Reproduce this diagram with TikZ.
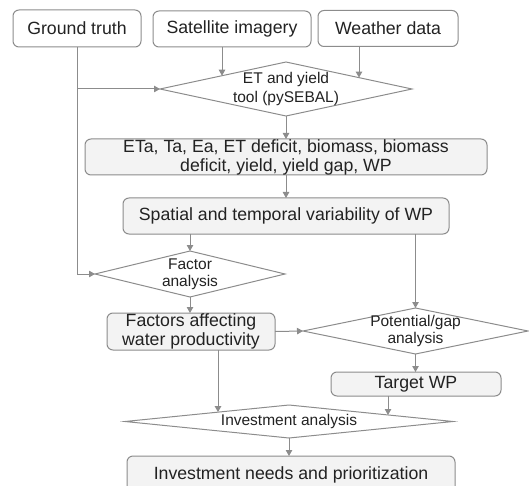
\documentclass[tikz,border=0pt]{standalone}
\usepackage{fontspec}
\setmainfont{Liberation Sans}
\usetikzlibrary{shapes.geometric,arrows.meta}
\definecolor{ln}{RGB}{140,140,140}
\definecolor{bx}{RGB}{243,243,243}
\definecolor{tx}{RGB}{34,34,34}
\begin{document}
\begin{tikzpicture}[x=1pt,y=-1pt,
  box/.style={draw=ln, line width=1pt, rounded corners=6pt, fill=bx, text=tx,
    inner sep=0pt, outer sep=0pt, align=center, font=\fontsize{17.7}{19}\selectfont},
  topbox/.style={box, fill=white},
  dia/.style={diamond, draw=ln, fill=white, line width=1pt, inner sep=0pt, outer sep=0pt},
  dtx/.style={text=tx, align=center, inner sep=0pt, font=\fontsize{15.5}{17}\selectfont},
  arr/.style={draw=ln, line width=1pt, -{Triangle[length=6pt,width=6.5pt]}},
  ln/.style={draw=ln, line width=1pt}]
\useasboundingbox (0,0) rectangle (529,486);
% top boxes
\node[topbox, minimum width=128pt, minimum height=37pt] (gt) at (77,28.5) {Ground truth};
\node[topbox, minimum width=158pt, minimum height=36pt] (sat) at (232,29) {Satellite imagery};
\node[topbox, minimum width=140pt, minimum height=36pt] (wea) at (388,28.5) {Weather data};
% ET diamond
\node[dia, minimum width=252pt, minimum height=54pt] (et) at (286,89) {};
\node[dtx] (ett) at (et.center) {ET and yield\\[2pt]tool (pySEBAL)};
% boxes
\node[box, minimum width=402pt, minimum height=36pt] (eta) at (286,157)
  {ETa, Ta, Ea, ET deficit, biomass, biomass\\deficit, yield, yield gap, WP};
\node[box, minimum width=326pt, minimum height=36pt] (spat) at (286,216)
  {Spatial and temporal variability of WP};
% factor diamond
\node[dia, minimum width=190pt, minimum height=46pt] (fa) at (190,274) {};
\node[dtx] (fat) at (fa.center) {Factor\\analysis};
\node[box, minimum width=168pt, minimum height=37pt] (fac) at (191,331.5)
  {Factors affecting\\water productivity};
% potential diamond
\node[dia, minimum width=225pt, minimum height=46pt] (pot) at (415.5,331) {};
\node[dtx] (pott) at (pot.center) {Potential/gap\\analysis};
\node[box, minimum width=170pt, minimum height=24pt] (tgt) at (416,384) {Target WP};
% investment diamond
\node[dia, minimum width=328pt, minimum height=33pt] (inv) at (289,421.5) {};
\node[dtx] (invt) at (inv.center) {Investment analysis};
\node[box, minimum width=328pt, minimum height=38pt] (fin) at (291,475)
  {Investment needs and prioritization};
% helper coordinates on diamond borders
\coordinate (satA) at (222,47);
\coordinate (etA) at (222,75.7);
\coordinate (weaA) at (359,46.5);
\coordinate (etB) at (359,77.6);
\coordinate (gtJ) at (77,89);
\coordinate (gtK) at (77,274);
\coordinate (facA) at (218,350);
\coordinate (invA) at (218,412.1);
\coordinate (tgtA) at (388,396);
\coordinate (invB) at (388,415);
% connectors
\draw[arr] (satA) -- (etA);
\draw[arr] (weaA) -- (etB);
\draw[ln] (gt.south) -- (gtK);
\draw[arr] (gtJ) -- (et.west);
\draw[arr] (gtK) -- (fa.west);
\draw[arr] (et.south) -- (eta.north);
\draw[arr] (eta.south) -- (spat.north);
\draw[arr] (spat.south -| fa.north) -- (fa.north);
\draw[arr] (spat.south -| pot.north) -- (pot.north);
\draw[arr] (fa.south) -- (fa.south |- fac.north);
\draw[arr] (fac.east) -- (pot.west);
\draw[arr] (pot.south) -- (pot.south |- tgt.north);
\draw[arr] (facA) -- (invA);
\draw[arr] (tgtA) -- (invB);
\draw[arr] (inv.south) -- (inv.south |- fin.north);
\end{tikzpicture}
\end{document}
